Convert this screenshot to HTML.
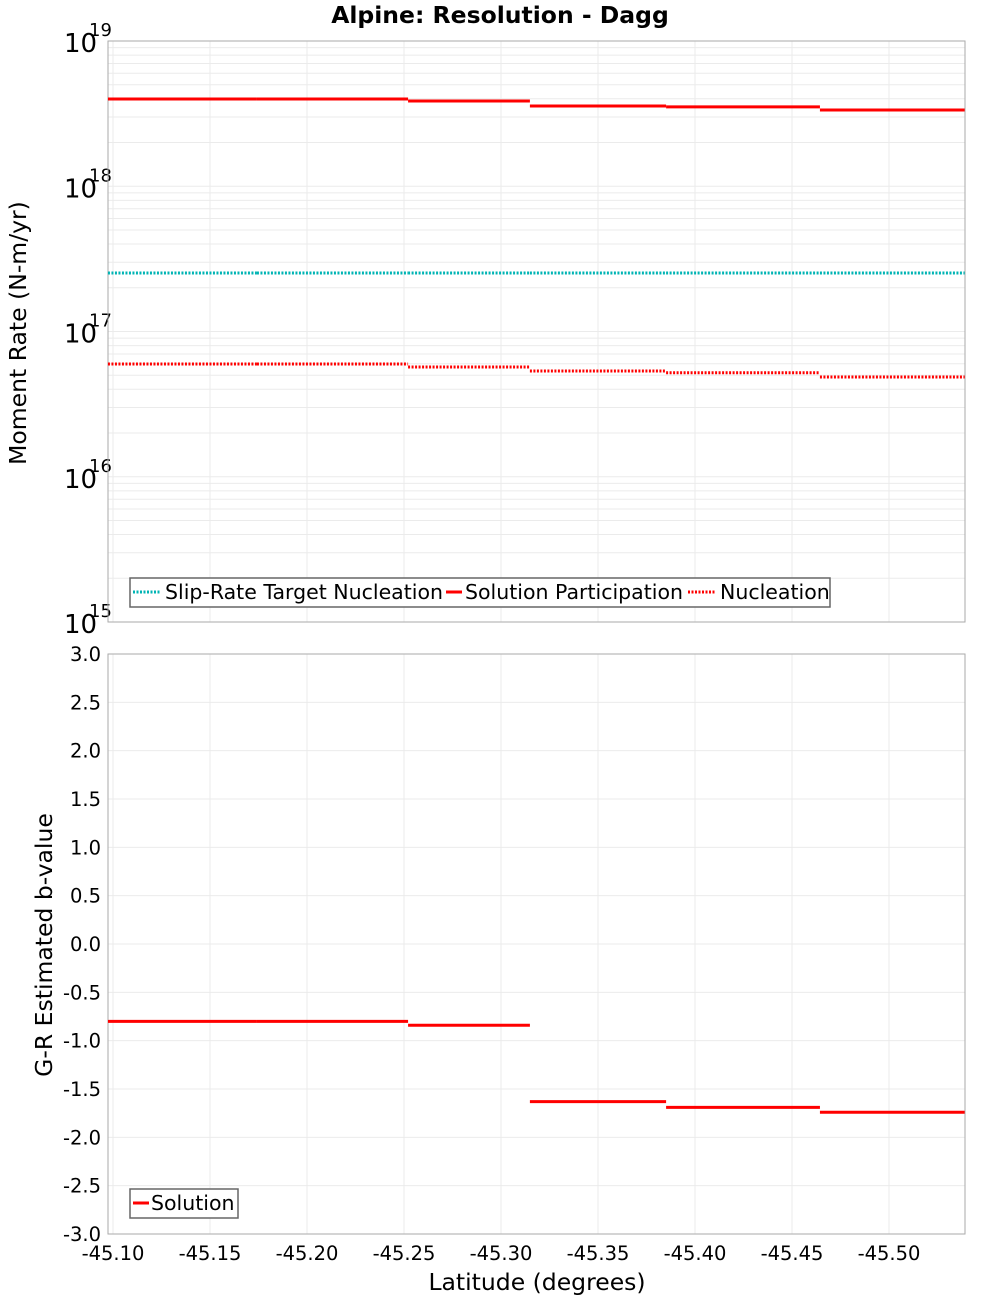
<!DOCTYPE html>
<html><head><meta charset="utf-8"><style>
body{margin:0;background:#fff;font-family:"Liberation Sans","DejaVu Sans",sans-serif;}
svg text{font-family:"DejaVu Sans","Liberation Sans",sans-serif;}
</style></head><body>
<svg id="chart" width="1000" height="1300" xmlns="http://www.w3.org/2000/svg">
<text x="500" y="23" text-anchor="middle" font-size="23.5" font-weight="bold">Alpine: Resolution - Dagg</text>
<text transform="translate(26,333) rotate(-90)" text-anchor="middle" font-size="23.5">Moment Rate (N-m/yr)</text>
<text transform="translate(52,945) rotate(-90)" text-anchor="middle" font-size="23.5">G-R Estimated b-value</text>
<text x="537" y="1290" text-anchor="middle" font-size="23.5">Latitude (degrees)</text>
<g id="g"></g>
</svg>
<script>
const segEdges=[-45.0974,-45.1742,-45.2521,-45.3149,-45.3851,-45.4644,-45.539];
const participation=[3.99e18,3.99e18,3.86e18,3.57e18,3.52e18,3.35e18];
const nucleation=[5.97e16,5.97e16,5.7e16,5.35e16,5.2e16,4.86e16];
const slipTarget=[2.53e17,2.53e17,2.53e17,2.53e17,2.53e17,2.53e17];
const bValues=[-0.80,-0.80,-0.84,-1.63,-1.69,-1.74];
const xTicks=[-45.10,-45.15,-45.20,-45.25,-45.30,-45.35,-45.40,-45.45,-45.50];
const logTicks=[15,16,17,18,19];
const bTicks=[3.0,2.5,2.0,1.5,1.0,0.5,0.0,-0.5,-1.0,-1.5,-2.0,-2.5,-3.0];

const NS="http://www.w3.org/2000/svg";const g=document.getElementById('g');
const L=108,R=965,T1=41,B1=622,T2=654,B2=1234;
const xs=v=>113+(-45.10-v)*1940;
const ys1=v=>B1-(Math.log10(v)-15)*(B1-T1)/4;
const ys2=v=>T2+(3-v)*(B2-T2)/6;
function el(t,a,name,txt){const e=document.createElementNS(NS,t);for(const k in a)e.setAttribute(k,a[k]);


if(txt!==undefined)e.textContent=txt;g.appendChild(e);return e;}
el('rect',{x:L,y:T1,width:R-L,height:B1-T1,fill:'#fff',stroke:'none'},'top-plot-area');
el('rect',{x:L,y:T2,width:R-L,height:B2-T2,fill:'#fff',stroke:'none'},'bottom-plot-area');
for(let d=15;d<19;d++)for(let m=1;m<10;m++){const y=ys1(m*Math.pow(10,d));
el('line',{x1:L,x2:R,y1:y,y2:y,stroke:'#ebebeb','stroke-width':1},'top-grid-line');}
xTicks.forEach(v=>{const x=xs(v);
el('line',{x1:x,x2:x,y1:T1,y2:B1,stroke:'#ebebeb'},'top-x-grid-line');
el('line',{x1:x,x2:x,y1:T2,y2:B2,stroke:'#ebebeb'},'bottom-x-grid-line');
el('text',{x:x,y:1260,'text-anchor':'middle','font-size':19.5},'x-tick-label',v.toFixed(2));});
bTicks.forEach(v=>{const y=ys2(v);
el('line',{x1:L,x2:R,y1:y,y2:y,stroke:'#ebebeb'},'bottom-y-grid-line');
el('text',{x:101,y:y+7,'text-anchor':'end','font-size':19.5},'bottom-y-tick-label',v.toFixed(1));});
logTicks.forEach(d=>{const y=ys1(Math.pow(10,d));
el('text',{x:64,y:y+11,'font-size':26},'top-y-tick-label','10');
el('text',{x:89,y:y-5,'font-size':18},'top-y-tick-exponent',String(d));});
el('rect',{x:L,y:T1,width:R-L,height:B1-T1,fill:'none',stroke:'#aaa'},'top-plot-frame');
el('rect',{x:L,y:T2,width:R-L,height:B2-T2,fill:'none',stroke:'#aaa'},'bottom-plot-frame');
function steps(vals,sc,style,name){for(let i=0;i<vals.length;i++){const y=sc(vals[i]);
el('line',Object.assign({x1:xs(segEdges[i]),x2:xs(segEdges[i+1]),y1:y,y2:y},style),name);}}
steps(slipTarget,ys1,{stroke:'#00b4b4','stroke-width':3,'stroke-dasharray':'2,1.5'},'slip-rate-target-line');
steps(participation,ys1,{stroke:'#ff0000','stroke-width':3},'solution-participation-line');
steps(nucleation,ys1,{stroke:'#ff0000','stroke-width':3,'stroke-dasharray':'2,1.5'},'nucleation-line');
steps(bValues,ys2,{stroke:'#ff0000','stroke-width':3},'b-value-line');
el('rect',{x:130,y:578,width:700,height:29,fill:'#fff',stroke:'#666','stroke-width':1.5},'top-legend');
el('line',{x1:133,x2:161,y1:592,y2:592,stroke:'#00b4b4','stroke-width':3,'stroke-dasharray':'2,1.5'},'legend-swatch-slip-rate');
el('text',{x:165,y:599,'font-size':20.5},'legend-entry-slip-rate','Slip-Rate Target Nucleation');
el('line',{x1:446,x2:462,y1:592,y2:592,stroke:'#ff0000','stroke-width':3},'legend-swatch-participation');
el('text',{x:465,y:599,'font-size':20.5},'legend-entry-participation','Solution Participation');
el('line',{x1:688,x2:716,y1:592,y2:592,stroke:'#ff0000','stroke-width':3,'stroke-dasharray':'2,1.5'},'legend-swatch-nucleation');
el('text',{x:720,y:599,'font-size':20.5},'legend-entry-nucleation','Nucleation');
el('rect',{x:130,y:1189,width:108,height:29,fill:'#fff',stroke:'#666','stroke-width':1.5},'bottom-legend');
el('line',{x1:133,x2:149,y1:1203,y2:1203,stroke:'#ff0000','stroke-width':3},'legend-swatch-solution');
el('text',{x:151,y:1210,'font-size':20.5},'legend-entry-solution','Solution');
</script>
</body></html>
